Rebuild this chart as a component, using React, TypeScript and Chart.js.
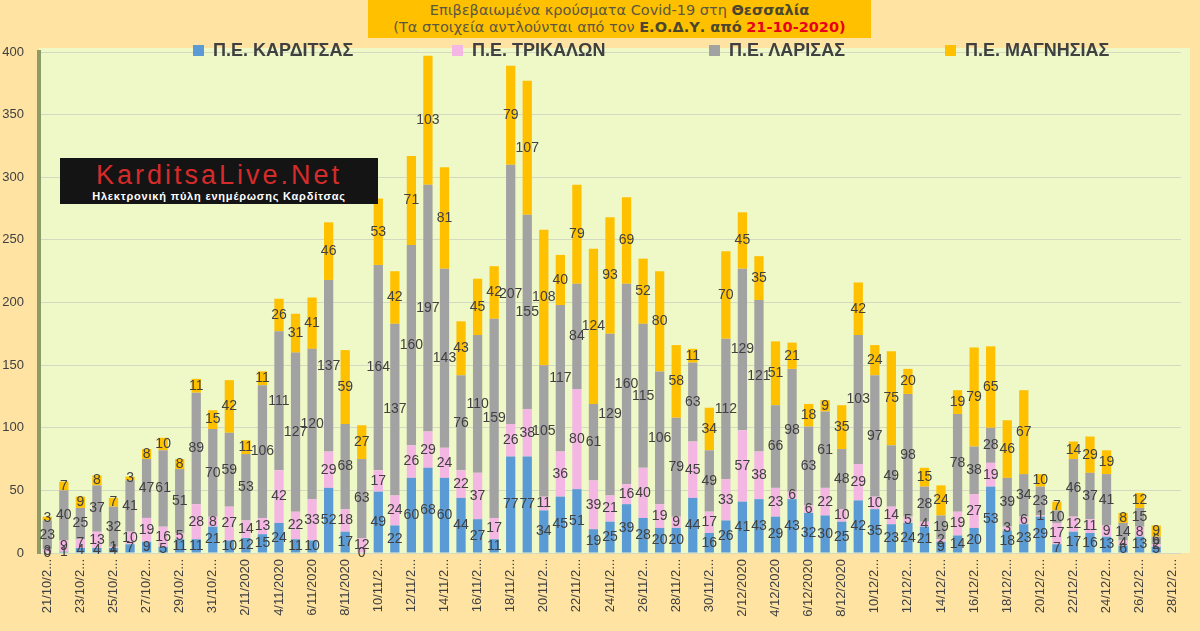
import React, { useEffect, useRef } from "react";
import { Chart, registerables } from "chart.js";

Chart.register(...registerables);

const dates = [
  "21/10/2020", "22/10/2020", "23/10/2020", "24/10/2020", "25/10/2020", "26/10/2020",
  "27/10/2020", "28/10/2020", "29/10/2020", "30/10/2020", "31/10/2020",
  "1/11/2020", "2/11/2020", "3/11/2020", "4/11/2020", "5/11/2020", "6/11/2020",
  "7/11/2020", "8/11/2020", "9/11/2020", "10/11/2020", "11/11/2020", "12/11/2020",
  "13/11/2020", "14/11/2020", "15/11/2020", "16/11/2020", "17/11/2020", "18/11/2020",
  "19/11/2020", "20/11/2020", "21/11/2020", "22/11/2020", "23/11/2020", "24/11/2020",
  "25/11/2020", "26/11/2020", "27/11/2020", "28/11/2020", "29/11/2020", "30/11/2020",
  "1/12/2020", "2/12/2020", "3/12/2020", "4/12/2020", "5/12/2020", "6/12/2020",
  "7/12/2020", "8/12/2020", "9/12/2020", "10/12/2020", "11/12/2020", "12/12/2020",
  "13/12/2020", "14/12/2020", "15/12/2020", "16/12/2020", "17/12/2020", "18/12/2020",
  "19/12/2020", "20/12/2020", "21/12/2020", "22/12/2020", "23/12/2020", "24/12/2020",
  "25/12/2020", "26/12/2020", "27/12/2020", "28/12/2020",
];

const karditsa = [
  0, 1, 4, 4, 4, 7, 9, 5, 11, 11, 21,
  10, 12, 15, 24, 11, 10, 52, 17, 0, 49, 22, 60, 68, 60, 44, 27, 11, 77, 77, 34,
  45, 51, 19, 25, 39, 28, 20, 20, 44, 16,
  26, 41, 43, 29, 43, 32, 30, 25, 42, 35, 23, 24, 21, 9, 14, 20, 53, 18, 23, 29,
  7, 17, 16, 13, 6, 13, 5, null,
];

const trikala = [
  3, 9, 7, 13, 1, 10, 19, 16, 5, 28, 8,
  27, 14, 13, 42, 22, 33, 29, 18, 12, 17, 24, 26, 29, 24, 22, 37, 17, 26, 38, 11,
  36, 80, 39, 21, 16, 40, 19, 9, 45, 17,
  33, 57, 38, 23, 6, 6, 22, 10, 29, 10, 14, 5, 4, 2, 19, 27, 19, 3, 6, 1,
  17, 12, 11, 9, 4, 8, 2, null,
];

const larisa = [
  23, 40, 25, 37, 32, 41, 47, 61, 51, 89, 70,
  59, 53, 106, 111, 127, 120, 137, 68, 63, 164, 137, 160, 197, 143, 76, 110, 159, 207, 155, 105,
  117, 84, 61, 129, 160, 115, 106, 79, 63, 49,
  112, 129, 121, 66, 98, 63, 61, 48, 103, 97, 49, 98, 28, 19, 78, 38, 28, 39, 34, 23,
  10, 46, 37, 41, 14, 15, 6, null,
];

const magnisia = [
  3, 7, 9, 8, 7, 3, 8, 10, 8, 11, 15,
  42, 11, 11, 26, 31, 41, 46, 59, 27, 53, 42, 71, 103, 81, 43, 45, 42, 79, 107, 108,
  40, 79, 124, 93, 69, 52, 80, 58, 11, 34,
  70, 45, 35, 51, 21, 18, 9, 35, 42, 24, 75, 20, 15, 24, 19, 79, 65, 46, 67, 10,
  7, 14, 29, 19, 8, 12, 9, null,
];

const seriesNames = ["Π.Ε. ΚΑΡΔΙΤΣΑΣ", "Π.Ε. ΤΡΙΚΑΛΩΝ", "Π.Ε. ΛΑΡΙΣΑΣ", "Π.Ε. ΜΑΓΝΗΣΙΑΣ"];
const seriesValues = [karditsa, trikala, larisa, magnisia];
const seriesColors = ["#5B9BD5", "#F4B6E2", "#A2A2A2", "#FFC000"];
const legendLeft = [193, 452, 709, 945];

const FONT = '"Liberation Sans", Arial, sans-serif';

function shortLabel(d: string): string {
  return d.length > 9 ? d.slice(0, 7) + "..." : d;
}

const plotBg = {
  id: "plotBg",
  beforeDraw(chart: any) {
    const { ctx, chartArea: a } = chart;
    ctx.save();
    ctx.fillStyle = "#EFF8C7";
    ctx.fillRect(a.left, a.top - 4, a.right - a.left + 9, a.bottom - a.top + 4);
    ctx.restore();
  },
};

const valueLabels = {
  id: "valueLabels",
  afterDatasetsDraw(chart: any) {
    const { ctx } = chart;
    ctx.save();
    ctx.font = `14px ${FONT}`;
    ctx.fillStyle = "#404040";
    ctx.textAlign = "center";
    ctx.textBaseline = "middle";
    chart.data.datasets.forEach((ds: any, i: number) => {
      const meta = chart.getDatasetMeta(i);
      meta.data.forEach((el: any, j: number) => {
        const v = ds.data[j];
        if (v === null || v === undefined) return;
        const p = el.getProps(["x", "y", "base"], true);
        ctx.fillText(String(v), p.x, (p.y + p.base) / 2);
      });
    });
    ctx.restore();
  },
};

export default function App() {
  const ref = useRef<HTMLCanvasElement | null>(null);

  useEffect(() => {
    if (!ref.current) return;
    const chart = new Chart(ref.current, {
      type: "bar",
      data: {
        labels: dates,
        datasets: seriesNames.map((name, i) => ({
          label: name,
          data: seriesValues[i],
          backgroundColor: seriesColors[i],
          borderWidth: 0,
          barPercentage: 0.56,
          categoryPercentage: 1,
        })),
      },
      options: {
        animation: false,
        responsive: false,
        layout: { padding: { top: 52, right: 19, left: 0, bottom: 0 } },
        plugins: {
          legend: { display: false },
          tooltip: { enabled: false },
          title: { display: false },
        },
        scales: {
          x: {
            stacked: true,
            grid: { display: false, drawTicks: false },
            border: { display: false },
            ticks: {
              autoSkip: false,
              maxRotation: 90,
              minRotation: 90,
              padding: 6,
              color: "#404040",
              font: { family: FONT, size: 13 },
              callback: (_v: any, idx: number) => (idx % 2 === 0 ? shortLabel(dates[idx]) : ""),
            },
            afterFit: (s: any) => {
              s.height = 78;
            },
          },
          y: {
            stacked: true,
            min: 0,
            max: 400,
            ticks: {
              stepSize: 50,
              padding: 15,
              color: "#404040",
              font: { family: FONT, size: 13 },
            },
            grid: { color: "#D4D9C2", drawTicks: false, lineWidth: 1 },
            border: { display: true, color: "#8E9B66", width: 4 },
            afterFit: (s: any) => {
              s.width = 39;
            },
          },
        },
      } as any,
      plugins: [plotBg, valueLabels],
    });
    return () => chart.destroy();
  }, []);

  return (
    <div
      style={{
        position: "fixed",
        left: 0,
        top: 0,
        width: 1200,
        height: 631,
        background: "#FEE3A3",
        overflow: "hidden",
      }}
    >
      <canvas ref={ref} width={1200} height={631} style={{ position: "absolute", left: 0, top: 0 }} />
      <div
        style={{
          position: "absolute",
          left: 368,
          top: 0,
          width: 503,
          height: 38,
          background: "#FFC000",
          fontFamily: '"DejaVu Sans", Verdana, sans-serif',
          fontSize: 14.5,
          color: "#5C5840",
          textAlign: "center",
          lineHeight: "17px",
          paddingTop: 2,
          boxSizing: "border-box",
          whiteSpace: "nowrap",
        }}
      >
        <div>
          Επιβεβαιωμένα κρούσματα Covid-19 στη <b style={{ color: "#4A4630" }}>Θεσσαλία</b>
        </div>
        <div>
          (Τα στοιχεία αντλούνται από τον <b style={{ color: "#4A4630" }}>Ε.Ο.Δ.Υ. από</b>{" "}
          <b style={{ color: "#E8001C" }}>21-10-2020)</b>
        </div>
      </div>
      {seriesNames.map((name, i) => (
        <div
          key={name}
          style={{
            position: "absolute",
            left: legendLeft[i],
            top: 40,
            height: 20,
            display: "flex",
            alignItems: "center",
            fontFamily: FONT,
            fontWeight: "bold",
            fontSize: 18,
            color: "#404040",
            whiteSpace: "nowrap",
          }}
        >
          <span style={{ width: 11, height: 11, background: seriesColors[i], marginRight: 9, display: "inline-block" }} />
          {name}
        </div>
      ))}
      <div
        style={{
          position: "absolute",
          left: 60,
          top: 158,
          width: 318,
          height: 46,
          background: "#141414",
          textAlign: "center",
          fontFamily: FONT,
          overflow: "hidden",
        }}
      >
        <div style={{ color: "#D62B2B", fontSize: 27, letterSpacing: 3, lineHeight: "30px", marginTop: 2 }}>
          KarditsaLive.Net
        </div>
        <div style={{ color: "#FFFFFF", fontSize: 11, fontWeight: "bold", letterSpacing: 0.8, lineHeight: "12px" }}>
          Ηλεκτρονική πύλη ενημέρωσης Καρδίτσας
        </div>
      </div>
    </div>
  );
}
